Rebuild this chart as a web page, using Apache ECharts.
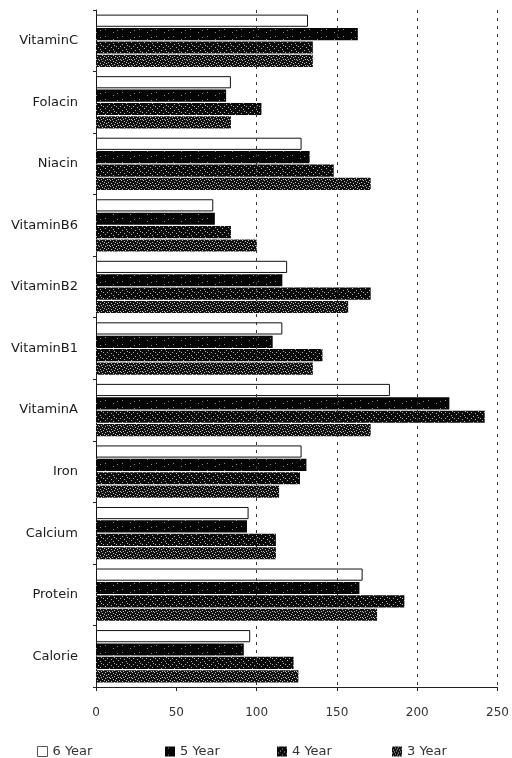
<!DOCTYPE html>
<html>
<head>
<meta charset="utf-8">
<script src="https://cdn.jsdelivr.net/npm/echarts@6/dist/echarts.min.js"></script>
<style>
  html, body { margin: 0; padding: 0; background: #fff; }
  #chart { width: 512px; height: 758px; }
</style>
</head>
<body>
<div id="chart"></div>
<script>
// Nutrient intake by age group (percent of recommended allowance)
const categories = ['VitaminC', 'Folacin', 'Niacin', 'VitaminB6', 'VitaminB2', 'VitaminB1',
                    'VitaminA', 'Iron', 'Calcium', 'Protein', 'Calorie'];
const seriesNames = ['6 Year', '5 Year', '4 Year', '3 Year'];
const year6 = [132, 84, 128, 73, 119, 116, 183, 128, 95, 166, 96];
const year5 = [163, 81, 133, 74, 116, 110, 220, 131, 94, 164, 92];
const year4 = [135, 103, 148, 84, 171, 141, 242, 127, 112, 192, 123];
const year3 = [135, 84, 171, 100, 157, 135, 171, 114, 112, 175, 126];
const xTicks = [0, 50, 100, 150, 200, 250];
const gridValues = [100, 150, 200, 250];

// Small repeating tiles that give the printed halftone look of the filled bars
function makeTile(w, h, bg, fg, dots) {
  const c = document.createElement('canvas');
  c.width = w; c.height = h;
  const g = c.getContext('2d');
  g.fillStyle = bg; g.fillRect(0, 0, w, h);
  g.fillStyle = fg;
  dots.forEach(d => g.fillRect(d[0], d[1], 1, 1));
  return c;
}
const tile5 = makeTile(17, 7, '#050505', '#8a8a8a', [[3, 1], [11, 4], [15, 2]]);
const tile4 = makeTile(13, 6, '#0a0a0a', '#b0b0b0',
  [[1, 0], [5, 2], [9, 1], [12, 4], [3, 4], [7, 5], [10, 3]]);
const tile3 = makeTile(11, 6, '#111', '#bcbcbc',
  [[0, 0], [3, 1], [6, 0], [9, 2], [1, 3], [4, 4], [7, 3], [10, 5], [2, 5], [8, 5], [5, 2]]);

const fills = [
  '#ffffff',
  { image: tile5, repeat: 'repeat' },
  { image: tile4, repeat: 'repeat' },
  { image: tile3, repeat: 'repeat' }
];
const values = [year6, year5, year4, year3];

const chart = echarts.init(document.getElementById('chart'), null, { renderer: 'canvas' });

const series = seriesNames.map((name, i) => {
  const s = {
    name: name,
    type: 'bar',
    data: values[i],
    barGap: '10%',
    barCategoryGap: '15%',
    itemStyle: {
      color: fills[i],
      borderColor: '#111',
      borderWidth: i === 0 ? 1 : 0
    },
    emphasis: { disabled: true },
    animation: false
  };
  if (i === 0) {
    s.markLine = {
      silent: true,
      symbol: ['none', 'none'],
      label: { show: false },
      lineStyle: { color: '#333', type: [3, 5], width: 1 },
      data: gridValues.map(v => ({ xAxis: v }))
    };
  }
  return s;
});

const legendLeft = [32, 160, 272, 387];
const legends = seriesNames.map((name, i) => ({
  data: [name],
  left: legendLeft[i],
  top: 740,
  itemWidth: 10,
  itemHeight: 10,
  itemGap: 0,
  icon: 'rect',
  itemStyle: { borderWidth: i === 0 ? 1 : 0, borderColor: '#555' },
  textStyle: { fontFamily: 'DejaVu Sans', fontSize: 13, color: '#333' },
  selectedMode: false
}));

chart.setOption({
  backgroundColor: '#fff',
  animation: false,
  grid: { left: 96, right: 14, top: 10, bottom: 71 },
  legend: legends,
  xAxis: {
    type: 'value',
    min: xTicks[0],
    max: xTicks[xTicks.length - 1],
    interval: 50,
    axisLine: { show: true, lineStyle: { color: '#222', width: 1 } },
    axisTick: { show: true, length: 4, lineStyle: { color: '#222' } },
    splitLine: { show: false },
    axisLabel: {
      margin: 20,
      fontFamily: 'DejaVu Sans',
      fontSize: 12,
      color: '#333'
    }
  },
  yAxis: {
    type: 'category',
    data: categories,
    inverse: true,
    axisLine: { show: true, lineStyle: { color: '#222', width: 1 } },
    axisTick: { show: true, length: 3, lineStyle: { color: '#222' } },
    axisLabel: {
      margin: 18,
      fontFamily: 'DejaVu Sans',
      fontSize: 13,
      color: '#1a1a1a',
      padding: [0, 0, 4, 0]
    }
  },
  series: series
});
</script>
</body>
</html>
